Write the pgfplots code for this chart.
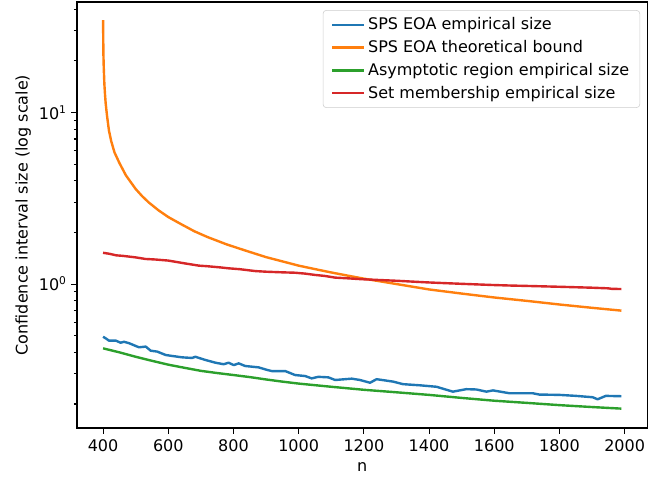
\documentclass[border=0pt]{standalone}
\usepackage{pgfplots}
\pgfplotsset{compat=1.18}
\usepackage{fontspec}
\setmainfont{DejaVu Sans}
\definecolor{c0}{HTML}{1F77B4}
\definecolor{c1}{HTML}{FF7F0E}
\definecolor{c2}{HTML}{2CA02C}
\definecolor{c3}{HTML}{D62728}
\newcommand{\mplfont}{\fontsize{12pt}{14.4pt}\selectfont}
\begin{document}
\begin{tikzpicture}[font=\mplfont]
\begin{axis}[
    scale only axis,
    width=427.9pt,
    height=319.5pt,
    ymode=log,
    xmin=320, xmax=2070,
    ymin=0.145, ymax=44,
    xtick={400,600,...,2000},
    ytick={1,10},
    yticklabels={10\textsuperscript{0},10\textsuperscript{1}},
    minor ytick={0.2,0.3,0.4,0.5,0.6,0.7,0.8,0.9,2,3,4,5,6,7,8,9,20,30,40},
    /pgf/number format/assume math mode=true,
    /pgf/number format/1000 sep={},
    tick label style={font=\mplfont},
    label style={font=\mplfont},
    xlabel={n},
    ylabel={Confidence interval size (log scale)},
    tick align=outside,
    tick pos=left,
    major tick length=4.2pt,
    minor tick length=2.4pt,
    every tick/.style={black, line width=0.8pt},
    axis line style={line width=0.9pt},
    xticklabel style={yshift=-1pt},
    xlabel style={yshift=-1.5pt},
    ylabel style={yshift=-1pt},
    legend cell align=left,
    legend style={at={(0.987,0.981)}, anchor=north east, font=\mplfont,
        draw=black!20, rounded corners=2.5pt, fill=white, fill opacity=0.8,
        text opacity=1, draw opacity=1, inner xsep=6pt, inner ysep=3.5pt,
        row sep=2.5pt},
    legend image code/.code={\draw[#1, line width=1.8pt, draw opacity=1] (0pt,0pt) -- (24pt,0pt);},
    every axis plot/.append style={line width=1.8pt, mark=none, line join=round},
]

% SPS EOA empirical size
\addplot[c0] coordinates {
(400,0.493) (410,0.480) (418,0.468) (439,0.468) (454,0.455) (464,0.461)
(480,0.452) (510,0.428) (531,0.432) (546,0.409) (566,0.404) (592,0.386)
(612,0.381) (643,0.374) (673,0.371) (683,0.377) (714,0.361) (745,0.348)
(770,0.341) (785,0.348) (801,0.337) (816,0.345) (836,0.333) (877,0.327)
(903,0.316) (918,0.311) (959,0.311) (989,0.295) (1020,0.291) (1040,0.282)
(1060,0.288) (1091,0.286) (1112,0.276) (1163,0.281) (1188,0.276) (1219,0.266)
(1239,0.279) (1290,0.270) (1320,0.261) (1372,0.257) (1423,0.252) (1473,0.236)
(1514,0.244) (1545,0.243) (1576,0.236) (1596,0.240) (1647,0.231) (1718,0.231)
(1738,0.227) (1800,0.226) (1851,0.223) (1902,0.219) (1917,0.213) (1942,0.223)
(1990,0.222)
};
\addlegendentry{SPS EOA empirical size}

% SPS EOA theoretical bound
\addplot[c1] coordinates {
(400,34.5) (401,22.0) (402,18.5) (404,14.6) (406,12.7) (408,11.3)
(412,9.6) (418,7.85) (425,6.8) (435,5.85) (450,5.08) (470,4.30)
(500,3.58) (520,3.25) (540,2.99) (570,2.69) (600,2.457) (640,2.23)
(680,2.03) (720,1.88) (780,1.70) (840,1.56) (900,1.435) (1000,1.28)
(1050,1.222) (1100,1.168) (1150,1.12) (1200,1.075) (1300,1.0) (1400,0.93)
(1500,0.88) (1600,0.835) (1700,0.798) (1800,0.760) (1900,0.727) (1990,0.700)
};
\addlegendentry{SPS EOA theoretical bound}

% Asymptotic region empirical size
\addplot[c2] coordinates {
(400,0.422) (450,0.400) (500,0.377) (550,0.357) (600,0.339) (650,0.325)
(700,0.312) (750,0.303) (800,0.295) (850,0.287) (900,0.278) (950,0.270)
(1000,0.263) (1100,0.252) (1200,0.242) (1300,0.234) (1400,0.226)
(1500,0.217) (1600,0.209) (1700,0.203) (1800,0.197) (1900,0.192) (1990,0.188)
};
\addlegendentry{Asymptotic region empirical size}

% Set membership empirical size
\addplot[c3] coordinates {
(400,1.521) (420,1.50) (440,1.47) (460,1.46) (500,1.43) (530,1.40)
(560,1.39) (600,1.37) (620,1.35) (650,1.32) (694,1.28) (720,1.27)
(760,1.25) (785,1.235) (820,1.22) (867,1.19) (900,1.18) (950,1.17)
(989,1.164) (1020,1.15) (1050,1.13) (1080,1.115) (1112,1.09) (1150,1.08)
(1193,1.067) (1250,1.055) (1300,1.045) (1392,1.023) (1450,1.012)
(1500,1.003) (1596,0.987) (1650,0.980) (1700,0.975) (1800,0.964)
(1850,0.958) (1900,0.952) (1950,0.944) (1960,0.938) (1990,0.935)
};
\addlegendentry{Set membership empirical size}

\end{axis}
\pgfresetboundingbox
\path (current axis.south west) ++(-57.75pt,-38.25pt) coordinate (bl);
\path (current axis.north east) ++(16.9pt,1.5pt) coordinate (tr);
\path (bl) rectangle (tr);
\end{tikzpicture}
\end{document}
